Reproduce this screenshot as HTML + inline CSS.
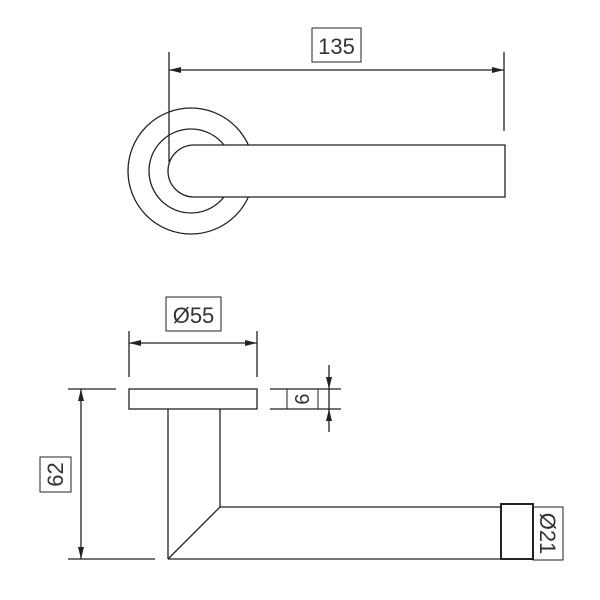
<!DOCTYPE html>
<html><head><meta charset="utf-8"><style>body{margin:0;background:#fff}svg{display:block}</style></head>
<body>
<svg width="600" height="600" viewBox="0 0 600 600" xmlns="http://www.w3.org/2000/svg" font-family="Liberation Sans, sans-serif">
<g stroke="#222" stroke-width="1.3" fill="none">
<!-- top view -->
<line x1="169" y1="52" x2="169" y2="162"/>
<line x1="504" y1="52" x2="504" y2="131"/>
<line x1="169" y1="70" x2="504" y2="70"/>
<rect x="312" y="28" width="49" height="34" stroke-width="1"/>
<circle cx="191" cy="171" r="63"/>
<circle cx="191" cy="171" r="42"/>
<path d="M194 145 H505 V197 H194 A26 26 0 0 1 194 145 Z" fill="#fff"/>
<!-- side view -->
<rect x="166" y="297" width="55" height="34" stroke-width="1"/>
<line x1="129" y1="331" x2="129" y2="377"/>
<line x1="257" y1="331" x2="257" y2="377"/>
<line x1="129" y1="343" x2="257" y2="343"/>
<rect x="129" y="389" width="128" height="20"/>
<line x1="68" y1="389" x2="116" y2="389"/>
<line x1="68" y1="559" x2="155" y2="559"/>
<line x1="81" y1="389" x2="81" y2="559"/>
<rect x="40" y="457" width="31" height="35" stroke-width="1"/>
<line x1="168" y1="409" x2="168" y2="559"/>
<line x1="220" y1="409" x2="220" y2="507"/>
<line x1="220" y1="507" x2="168" y2="559"/>
<line x1="220" y1="507" x2="501" y2="507"/>
<line x1="168" y1="559" x2="501" y2="559"/>
<rect x="501" y="504" width="32" height="55" stroke-width="2"/>
<rect x="533" y="507" width="30" height="53" stroke-width="1"/>
<line x1="270" y1="389" x2="341" y2="389"/>
<line x1="270" y1="409" x2="341" y2="409"/>
<rect x="287" y="389" width="31" height="20" stroke-width="1"/>
<line x1="329" y1="365" x2="329" y2="432"/>
</g>
<g fill="#222">
<polygon points="169,70 181,67 181,73"/>
<polygon points="504,70 492,67 492,73"/>
<polygon points="129,343 141,340 141,346"/>
<polygon points="257,343 245,340 245,346"/>
<polygon points="81,389 78,401 84,401"/>
<polygon points="81,559 78,547 84,547"/>
<polygon points="329,389 326,377 332,377"/>
<polygon points="329,409 326,421 332,421"/>
</g>
<g fill="#333" font-size="22">
<text x="336.5" y="54" text-anchor="middle">135</text>
<text x="193.5" y="323" text-anchor="middle">Ø55</text>
<text transform="translate(63,474.5) rotate(-90)" text-anchor="middle">62</text>
<text transform="translate(295,399) rotate(90)" text-anchor="middle" font-size="20">9</text>
<text transform="translate(540,533.5) rotate(90)" text-anchor="middle">Ø21</text>
</g>
</svg>
</body></html>
